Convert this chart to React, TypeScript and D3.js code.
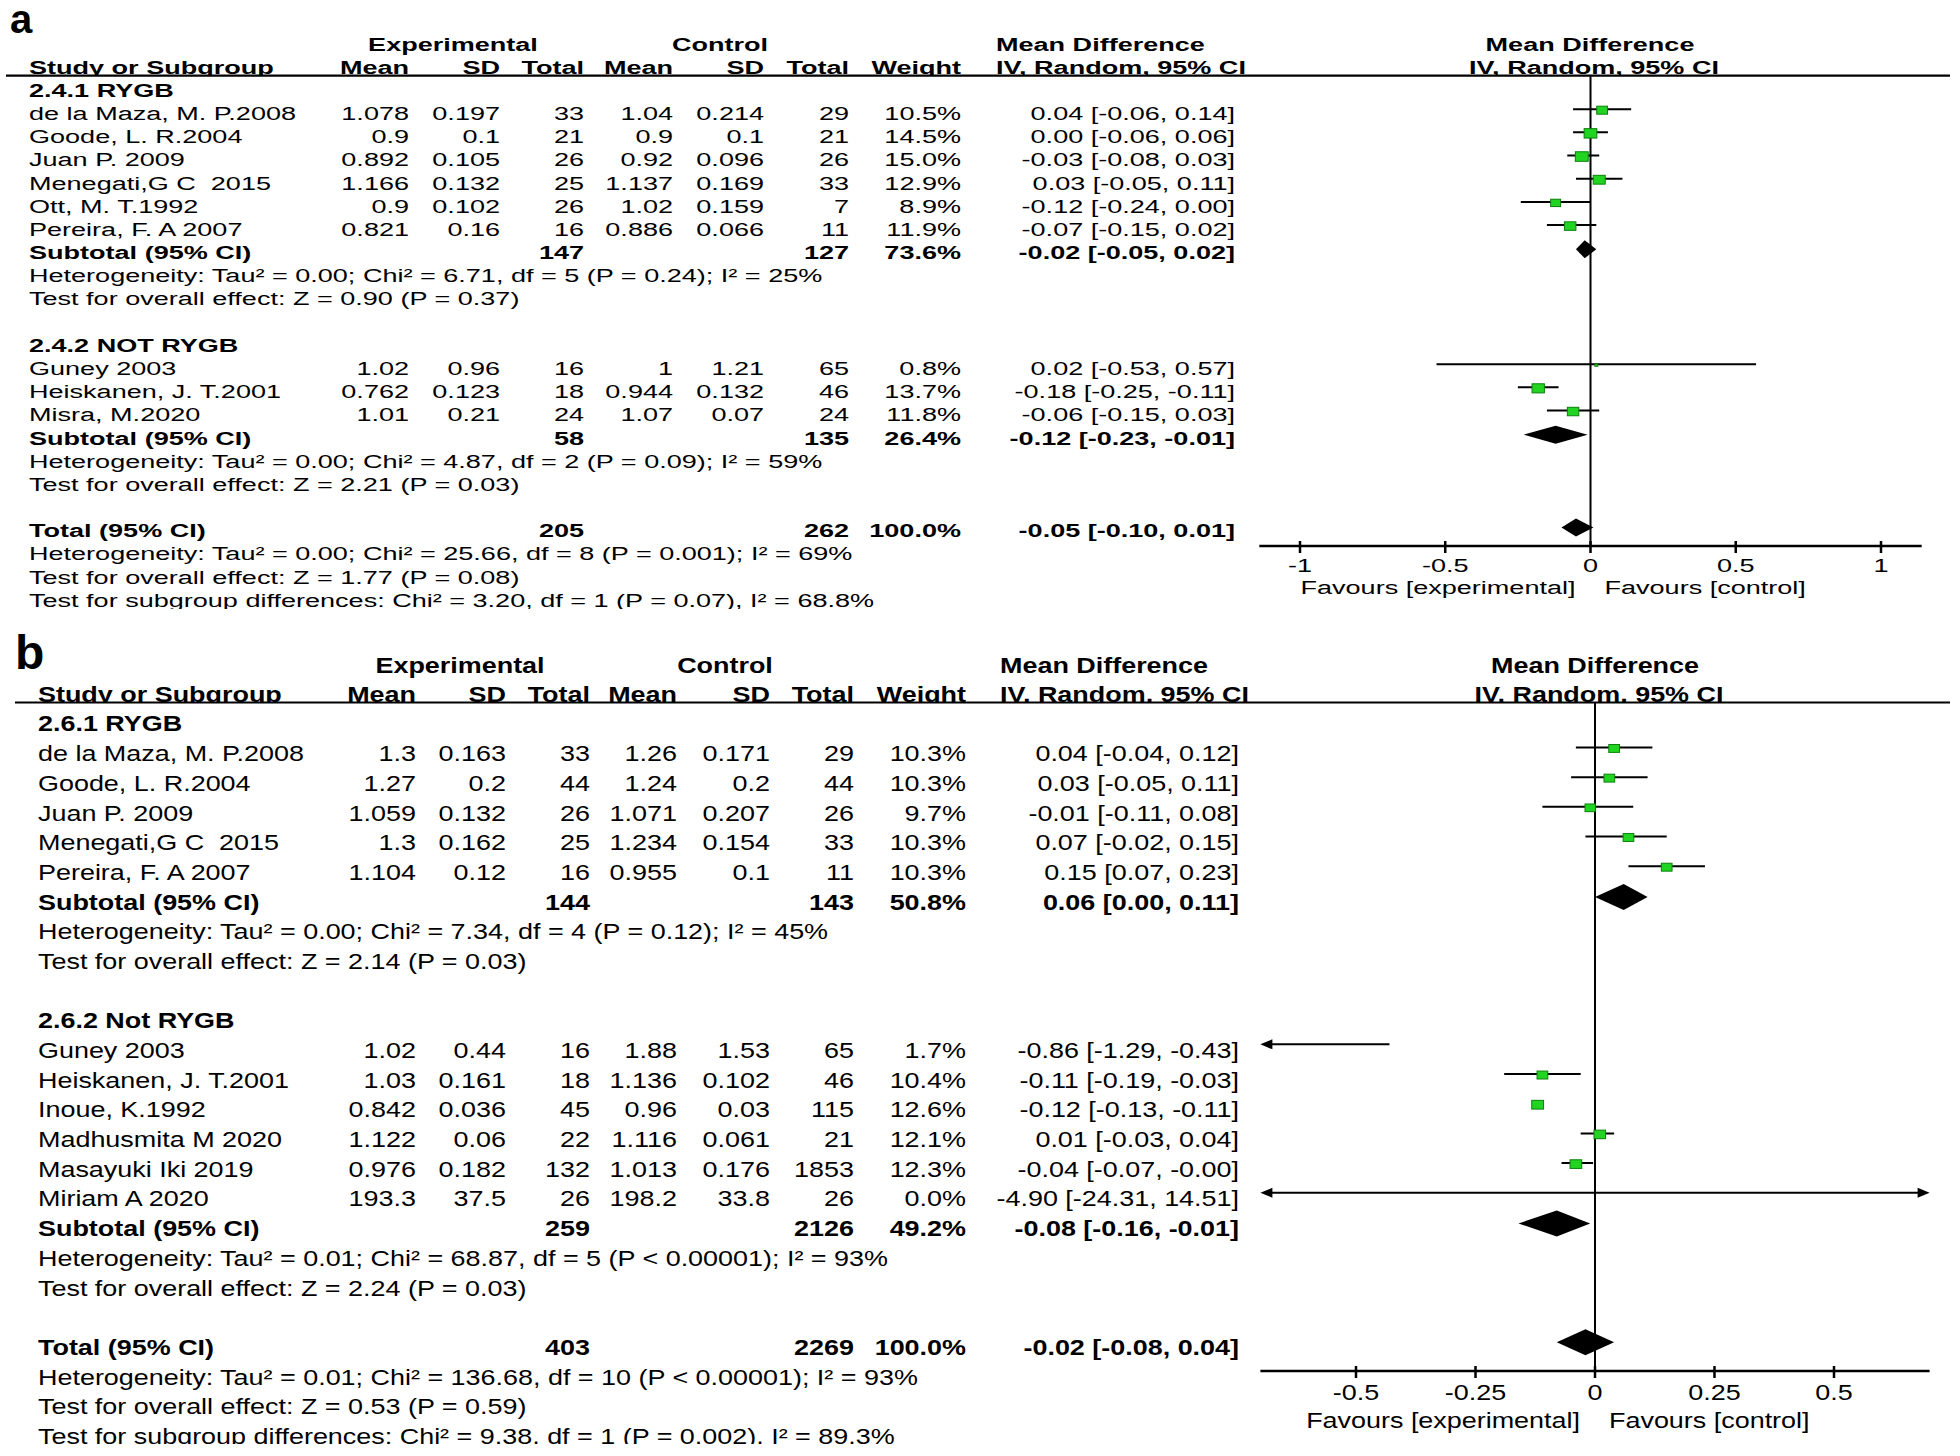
import React from "react";
import * as d3 from "d3";

const FONT = "'Liberation Sans', Arial, Helvetica, sans-serif";

// ---------- Panel a data ----------
const aHeadings = ["2.4.1 RYGB", "2.4.2 NOT RYGB"];
const aNames = ["de la Maza, M. P.2008", "Goode, L. R.2004", "Juan P. 2009", "Menegati,G C  2015", "Ott, M. T.1992", "Pereira, F. A 2007", "Guney 2003", "Heiskanen, J. T.2001", "Misra, M.2020"];
const aGroup = [0, 0, 0, 0, 0, 0, 1, 1, 1];
const aExpMean = ["1.078", "0.9", "0.892", "1.166", "0.9", "0.821", "1.02", "0.762", "1.01"];
const aExpSD = ["0.197", "0.1", "0.105", "0.132", "0.102", "0.16", "0.96", "0.123", "0.21"];
const aExpN = [33, 21, 26, 25, 26, 16, 16, 18, 24];
const aCtlMean = ["1.04", "0.9", "0.92", "1.137", "1.02", "0.886", "1", "0.944", "1.07"];
const aCtlSD = ["0.214", "0.1", "0.096", "0.169", "0.159", "0.066", "1.21", "0.132", "0.07"];
const aCtlN = [29, 21, 26, 33, 7, 11, 65, 46, 24];
const aWeight = [10.5, 14.5, 15.0, 12.9, 8.9, 11.9, 0.8, 13.7, 11.8];
const aMD = [0.04, 0.0, -0.03, 0.03, -0.12, -0.07, 0.02, -0.18, -0.06];
const aLo = [-0.06, -0.06, -0.08, -0.05, -0.24, -0.15, -0.53, -0.25, -0.15];
const aHi = [0.14, 0.06, 0.03, 0.11, 0.0, 0.02, 0.57, -0.11, 0.03];
const aSumLabels = ["Subtotal (95% CI)", "Subtotal (95% CI)", "Total (95% CI)"];
const aSumExpN = [147, 58, 205];
const aSumCtlN = [127, 135, 262];
const aSumWeight = [73.6, 26.4, 100.0];
const aSumMD = [-0.02, -0.12, -0.05];
const aSumLo = [-0.05, -0.23, -0.1];
const aSumHi = [0.02, -0.01, 0.01];
const aStats = [
  "Heterogeneity: Tau² = 0.00; Chi² = 6.71, df = 5 (P = 0.24); I² = 25%",
  "Test for overall effect: Z = 0.90 (P = 0.37)",
  "Heterogeneity: Tau² = 0.00; Chi² = 4.87, df = 2 (P = 0.09); I² = 59%",
  "Test for overall effect: Z = 2.21 (P = 0.03)",
  "Heterogeneity: Tau² = 0.00; Chi² = 25.66, df = 8 (P = 0.001); I² = 69%",
  "Test for overall effect: Z = 1.77 (P = 0.08)",
  "Test for subgroup differences: Chi² = 3.20, df = 1 (P = 0.07), I² = 68.8%",
];
const aTicks = [-1, -0.5, 0, 0.5, 1];

// ---------- Panel b data ----------
const bHeadings = ["2.6.1 RYGB", "2.6.2 Not RYGB"];
const bNames = ["de la Maza, M. P.2008", "Goode, L. R.2004", "Juan P. 2009", "Menegati,G C  2015", "Pereira, F. A 2007", "Guney 2003", "Heiskanen, J. T.2001", "Inoue, K.1992", "Madhusmita M 2020", "Masayuki Iki 2019", "Miriam A 2020"];
const bGroup = [0, 0, 0, 0, 0, 1, 1, 1, 1, 1, 1];
const bExpMean = ["1.3", "1.27", "1.059", "1.3", "1.104", "1.02", "1.03", "0.842", "1.122", "0.976", "193.3"];
const bExpSD = ["0.163", "0.2", "0.132", "0.162", "0.12", "0.44", "0.161", "0.036", "0.06", "0.182", "37.5"];
const bExpN = [33, 44, 26, 25, 16, 16, 18, 45, 22, 132, 26];
const bCtlMean = ["1.26", "1.24", "1.071", "1.234", "0.955", "1.88", "1.136", "0.96", "1.116", "1.013", "198.2"];
const bCtlSD = ["0.171", "0.2", "0.207", "0.154", "0.1", "1.53", "0.102", "0.03", "0.061", "0.176", "33.8"];
const bCtlN = [29, 44, 26, 33, 11, 65, 46, 115, 21, 1853, 26];
const bWeight = [10.3, 10.3, 9.7, 10.3, 10.3, 1.7, 10.4, 12.6, 12.1, 12.3, 0.0];
const bMD = [0.04, 0.03, -0.01, 0.07, 0.15, -0.86, -0.11, -0.12, 0.01, -0.04, -4.9];
const bLo = [-0.04, -0.05, -0.11, -0.02, 0.07, -1.29, -0.19, -0.13, -0.03, -0.07, -24.31];
const bHi = [0.12, 0.11, 0.08, 0.15, 0.23, -0.43, -0.03, -0.11, 0.04, -0.004, 14.51];
const bSumLabels = ["Subtotal (95% CI)", "Subtotal (95% CI)", "Total (95% CI)"];
const bSumExpN = [144, 259, 403];
const bSumCtlN = [143, 2126, 2269];
const bSumWeight = [50.8, 49.2, 100.0];
const bSumMD = [0.06, -0.08, -0.02];
const bSumLo = [0.0, -0.16, -0.08];
const bSumHi = [0.11, -0.01, 0.04];
const bStats = [
  "Heterogeneity: Tau² = 0.00; Chi² = 7.34, df = 4 (P = 0.12); I² = 45%",
  "Test for overall effect: Z = 2.14 (P = 0.03)",
  "Heterogeneity: Tau² = 0.01; Chi² = 68.87, df = 5 (P < 0.00001); I² = 93%",
  "Test for overall effect: Z = 2.24 (P = 0.03)",
  "Heterogeneity: Tau² = 0.01; Chi² = 136.68, df = 10 (P < 0.00001); I² = 93%",
  "Test for overall effect: Z = 0.53 (P = 0.59)",
  "Test for subgroup differences: Chi² = 9.38, df = 1 (P = 0.002), I² = 89.3%",
];
const bTicks = [-0.5, -0.25, 0, 0.25, 0.5];

const colHeaders = ["Mean", "SD", "Total", "Mean", "SD", "Total", "Weight"];

const dataA = { headings: aHeadings, names: aNames, group: aGroup, expMean: aExpMean, expSD: aExpSD, expN: aExpN, ctlMean: aCtlMean, ctlSD: aCtlSD, ctlN: aCtlN, weight: aWeight, md: aMD, lo: aLo, hi: aHi, sumLabels: aSumLabels, sumExpN: aSumExpN, sumCtlN: aSumCtlN, sumWeight: aSumWeight, sumMD: aSumMD, sumLo: aSumLo, sumHi: aSumHi, stats: aStats, ticks: aTicks };
const dataB = { headings: bHeadings, names: bNames, group: bGroup, expMean: bExpMean, expSD: bExpSD, expN: bExpN, ctlMean: bCtlMean, ctlSD: bCtlSD, ctlN: bCtlN, weight: bWeight, md: bMD, lo: bLo, hi: bHi, sumLabels: bSumLabels, sumExpN: bSumExpN, sumCtlN: bSumCtlN, sumWeight: bSumWeight, sumMD: bSumMD, sumLo: bSumLo, sumHi: bSumHi, stats: bStats, ticks: bTicks };

const cfgA = {
  id: "a", label: "a", labelX: 10, labelY: 33, labelFs: 40, labelSx: 1.0,
  fs: 19, sx: 1.424, hdr1: 44, hdr2: 67.5, lineY: 75.6, lineX0: 6, lineX1: 1950,
  nameX: 29, cols: [409, 500, 584, 673, 764, 849, 961, 1235], ciHdrX: 996,
  expHdrX: 453, ctlHdrX: 720, plotHdrX: 1590,
  y0: 90, pitch: 23.18, axisY: 546, tickLblY: 565, favY: 587.5,
  domain: [-1, 1], range: [1300, 1881], ext: [-1.14, 1.14], clipY: 609,
  markOff: -4, diaOff: -3, diaH: 18, sqK: 2.9,
};
const cfgB = {
  id: "b", label: "b", labelX: 15, labelY: 669, labelFs: 48, labelSx: 1,
  fs: 21.5, sx: 1.253, hdr1: 665, hdr2: 694, lineY: 702.5, lineX0: 15, lineX1: 1950,
  nameX: 38, cols: [416, 506, 590, 677, 770, 854, 966, 1239], ciHdrX: 1000,
  expHdrX: 460, ctlHdrX: 725, plotHdrX: 1595,
  y0: 723.75, pitch: 29.69, axisY: 1371, tickLblY: 1392.5, favY: 1420,
  domain: [-0.5, 0.5], range: [1356, 1834], ext: [-0.7, 0.7], clipY: 1444,
  markOff: -6, diaOff: -5, diaH: 26, sqK: 2.9,
};

function T({ x, y, t, a = "start", b = false, fs, sx }: any) {
  return (
    <text
      transform={`translate(${x},${y}) scale(${sx},1)`}
      fontSize={fs}
      fontWeight={b ? "bold" : "normal"}
      textAnchor={a}
      fill="#000"
      style={{ whiteSpace: "pre" }}
    >
      {t}
    </text>
  );
}

function ciText(md: number, lo: number, hi: number) {
  return `${md.toFixed(2)} [${lo.toFixed(2)}, ${hi.toFixed(2)}]`;
}

function Panel({ c, d }: any) {
  const x = d3.scaleLinear().domain(c.domain).range(c.range);
  const zero = x(0);
  const bl = (center: number) => center + 0.358 * c.fs;
  const rowC = (k: number) => c.y0 + k * c.pitch;
  const tp = { fs: c.fs, sx: c.sx };

  const textEls: any[] = [];
  const marks: any[] = [];
  let k = 0;
  const diamond = (md: number, lo: number, hi: number, yc: number, key: string) => {
    const h = c.diaH / 2;
    const pts = [[x(lo), yc], [x(md), yc - h], [x(hi), yc], [x(md), yc + h]];
    marks.push(<polygon key={key} points={pts.map((p) => p.join(",")).join(" ")} fill="#000" />);
  };
  const arrow = (px: number, py: number, dir: number, key: string) => {
    marks.push(
      <polygon key={key} points={`${px},${py} ${px - dir * 12},${py - 5} ${px - dir * 12},${py + 5}`} fill="#000" />
    );
  };

  for (let g = 0; g < 2; g++) {
    textEls.push(<T key={`h${g}`} x={c.nameX} y={bl(rowC(k))} t={d.headings[g]} b {...tp} />);
    k++;
    d.names.forEach((name: string, i: number) => {
      if (d.group[i] !== g) return;
      const yc = rowC(k);
      const y = bl(yc);
      const vals = [d.expMean[i], d.expSD[i], String(d.expN[i]), d.ctlMean[i], d.ctlSD[i], String(d.ctlN[i]), d.weight[i].toFixed(1) + "%", ciText(d.md[i], d.lo[i], d.hi[i])];
      textEls.push(<T key={`n${i}`} x={c.nameX} y={y} t={name} {...tp} />);
      vals.forEach((v, j) => textEls.push(<T key={`v${i}_${j}`} x={c.cols[j]} y={y} t={v} a="end" {...tp} />));
      const my = yc + c.markOff;
      const lo = Math.max(d.lo[i], c.ext[0]);
      const hi = Math.min(d.hi[i], c.ext[1]);
      const lx = d.lo[i] < c.ext[0] ? x(c.ext[0]) + 10 : x(lo);
      const rx = d.hi[i] > c.ext[1] ? x(c.ext[1]) - 10 : x(hi);
      marks.push(<line key={`l${i}`} x1={lx} x2={rx} y1={my} y2={my} stroke="#000" strokeWidth={2} />);
      if (d.lo[i] < c.ext[0]) arrow(x(c.ext[0]), my, -1, `al${i}`);
      if (d.hi[i] > c.ext[1]) arrow(x(c.ext[1]), my, 1, `ar${i}`);
      if (d.weight[i] > 0 && d.md[i] >= c.ext[0] && d.md[i] <= c.ext[1]) {
        const w = c.sqK * Math.sqrt(d.weight[i]) * 1.15;
        const h = c.sqK * Math.sqrt(d.weight[i]) * 0.85;
        marks.push(
          <rect key={`s${i}`} x={x(d.md[i]) - w / 2} y={my + 1 - h / 2} width={w} height={h} fill="#22d422" stroke="#0b800b" strokeWidth={1} />
        );
      }
      k++;
    });
    {
      const yc = rowC(k);
      const y = bl(yc);
      textEls.push(<T key={`st${g}`} x={c.nameX} y={y} t={d.sumLabels[g]} b {...tp} />);
      const vals: [number, string][] = [[2, String(d.sumExpN[g])], [5, String(d.sumCtlN[g])], [6, d.sumWeight[g].toFixed(1) + "%"], [7, ciText(d.sumMD[g], d.sumLo[g], d.sumHi[g])]];
      vals.forEach(([j, v]) => textEls.push(<T key={`sv${g}_${j}`} x={c.cols[j]} y={y} t={v} a="end" b {...tp} />));
      diamond(d.sumMD[g], d.sumLo[g], d.sumHi[g], yc + c.diaOff, `d${g}`);
      k++;
    }
    textEls.push(<T key={`het${g}`} x={c.nameX} y={bl(rowC(k))} t={d.stats[g * 2]} {...tp} />);
    k++;
    textEls.push(<T key={`tst${g}`} x={c.nameX} y={bl(rowC(k))} t={d.stats[g * 2 + 1]} {...tp} />);
    k++;
    k++; // blank
  }
  {
    const yc = rowC(k);
    const y = bl(yc);
    textEls.push(<T key="tot" x={c.nameX} y={y} t={d.sumLabels[2]} b {...tp} />);
    const vals: [number, string][] = [[2, String(d.sumExpN[2])], [5, String(d.sumCtlN[2])], [6, d.sumWeight[2].toFixed(1) + "%"], [7, ciText(d.sumMD[2], d.sumLo[2], d.sumHi[2])]];
    vals.forEach(([j, v]) => textEls.push(<T key={`tv${j}`} x={c.cols[j]} y={y} t={v} a="end" b {...tp} />));
    diamond(d.sumMD[2], d.sumLo[2], d.sumHi[2], yc + c.diaOff, "dt");
    k++;
  }
  for (let s = 4; s < 7; s++) {
    textEls.push(<T key={`fs${s}`} x={c.nameX} y={bl(rowC(k))} t={d.stats[s]} {...tp} />);
    k++;
  }

  const hb1 = bl(c.hdr1);
  const hb2 = bl(c.hdr2);

  return (
    <g>
      <defs>
        <clipPath id={`clip-${c.id}`}>
          <rect x={0} y={c.lineY + 1.5} width={1960} height={c.clipY - c.lineY - 1.5} />
        </clipPath>
      </defs>
      <T x={c.labelX} y={c.labelY} t={c.label} b fs={c.labelFs} sx={c.labelSx} />
      <T x={c.expHdrX} y={hb1} t="Experimental" a="middle" b {...tp} />
      <T x={c.ctlHdrX} y={hb1} t="Control" a="middle" b {...tp} />
      <T x={c.ciHdrX} y={hb1} t="Mean Difference" b {...tp} />
      <T x={c.plotHdrX} y={hb1} t="Mean Difference" a="middle" b {...tp} />
      <T x={c.nameX} y={hb2} t="Study or Subgroup" b {...tp} />
      {colHeaders.map((h, j) => (
        <T key={`ch${j}`} x={c.cols[j]} y={hb2} t={h} a="end" b {...tp} />
      ))}
      <T x={c.ciHdrX} y={hb2} t="IV, Random, 95% CI" b {...tp} />
      <T x={c.plotHdrX + 4} y={hb2} t="IV, Random, 95% CI" a="middle" b {...tp} />
      <rect x={0} y={c.lineY} width={1960} height={8} fill="#fff" />
      <line x1={c.lineX0} x2={c.lineX1} y1={c.lineY} y2={c.lineY} stroke="#000" strokeWidth={2.2} />
      <g clipPath={`url(#clip-${c.id})`}>{textEls}</g>
      <line x1={zero} x2={zero} y1={c.lineY} y2={c.axisY} stroke="#000" strokeWidth={2} />
      {marks}
      <line x1={x(c.ext[0])} x2={x(c.ext[1])} y1={c.axisY} y2={c.axisY} stroke="#000" strokeWidth={2.5} />
      {d.ticks.map((t: number) => (
        <g key={`t${t}`}>
          <line x1={x(t)} x2={x(t)} y1={c.axisY - 5} y2={c.axisY + 7} stroke="#000" strokeWidth={2.5} />
          <T x={x(t)} y={bl(c.tickLblY)} t={String(t)} a="middle" {...tp} />
        </g>
      ))}
      <T x={zero - 15} y={bl(c.favY)} t="Favours [experimental]" a="end" {...tp} />
      <T x={zero + 14} y={bl(c.favY)} t="Favours [control]" {...tp} />
    </g>
  );
}

export default function App() {
  return (
    <svg
      width={1960}
      height={1456}
      viewBox="0 0 1960 1456"
      style={{ position: "absolute", left: 0, top: 0, display: "block", fontFamily: FONT }}
    >
      <rect x={0} y={0} width={1960} height={1456} fill="#fff" />
      <Panel c={cfgA} d={dataA} />
      <Panel c={cfgB} d={dataB} />
    </svg>
  );
}
